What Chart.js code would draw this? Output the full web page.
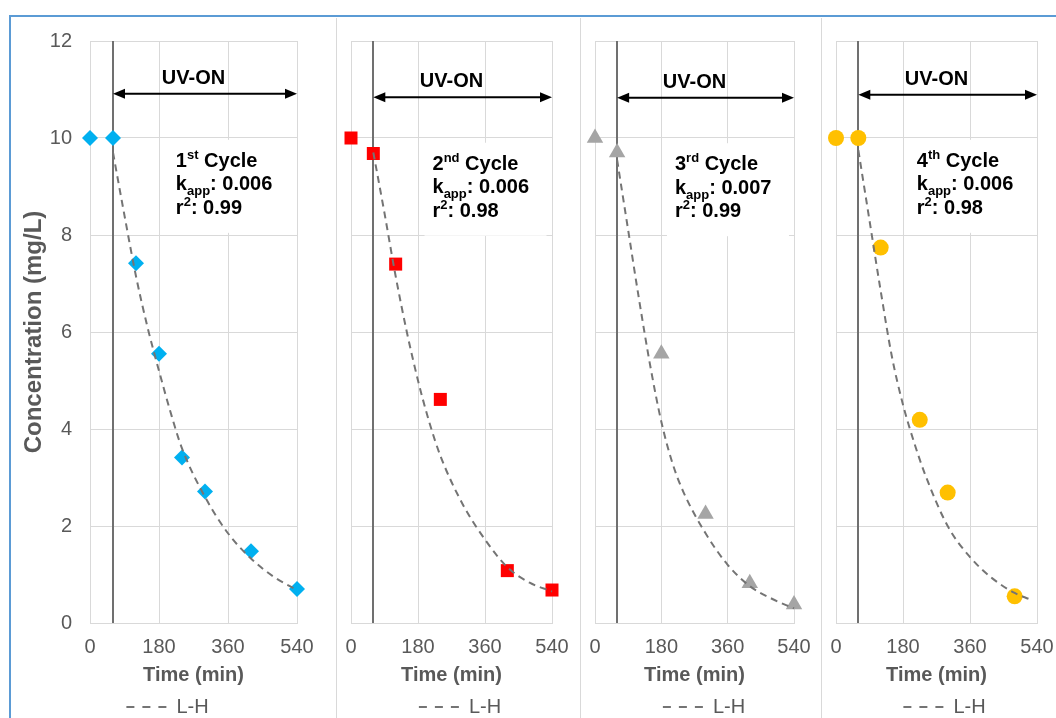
<!DOCTYPE html>
<html>
<head>
<meta charset="utf-8">
<script src="https://cdn.jsdelivr.net/npm/chart.js@4.4.1/dist/chart.umd.min.js"></script>
<style>
  html, body { margin: 0; padding: 0; background: #fff; overflow: hidden; }
  body { width: 1056px; height: 718px; position: relative; font-family: 'Liberation Sans', Arial, sans-serif; }
  .frame { position: absolute; left: 9px; top: 15px; width: 1060px; height: 720px; border-top: 2px solid #5b9bd5; border-left: 2px solid #5b9bd5; }
  .sep { position: absolute; top: 18px; width: 1px; height: 700px; background: #d9d9d9; }
  .panel { position: absolute; top: 18px; height: 710px; }
</style>
</head>
<body>
<div class="frame"></div>
<div class="sep" style="left:336px"></div>
<div class="sep" style="left:580px"></div>
<div class="sep" style="left:821px"></div>
<div class="panel" style="left:12px;width:324px"><canvas id="c1"></canvas></div>
<div class="panel" style="left:337px;width:243px"><canvas id="c2"></canvas></div>
<div class="panel" style="left:581px;width:240px"><canvas id="c3"></canvas></div>
<div class="panel" style="left:822px;width:234px"><canvas id="c4"></canvas></div>

<script>
// axes
const timeTicks = [0, 180, 360, 540];
const concTicks = [0, 2, 4, 6, 8, 10, 12];
const uvOnTime = 60;

// measured concentrations, one pair of arrays per cycle
const c1Time = [0, 60, 120, 180, 240, 300, 420, 540];
const c1Conc = [10.0, 10.0, 7.42, 5.55, 3.41, 2.71, 1.48, 0.70];
const c2Time = [0, 60, 120, 240, 420, 540];
const c2Conc = [10.0, 9.68, 7.40, 4.61, 1.08, 0.68];
const c3Time = [0, 60, 180, 300, 420, 540];
const c3Conc = [10.0, 9.70, 5.55, 2.25, 0.82, 0.38];
const c4Time = [0, 60, 120, 225, 300, 480];
const c4Conc = [10.0, 10.0, 7.74, 4.19, 2.69, 0.55];

// L-H fitted curves
const fitTime = [60, 90, 120, 150, 180, 210, 240, 300, 360, 420, 480, 540];
const fit1 = [9.7, 8.4, 7.15, 6.1, 5.2, 4.35, 3.6, 2.6, 1.85, 1.33, 0.95, 0.68];
const fit2 = [9.7, 8.45, 7.15, 6.0, 5.0, 4.15, 3.45, 2.45, 1.72, 1.15, 0.83, 0.65];
const fit3 = [9.55, 8.1, 6.65, 5.3, 4.15, 3.3, 2.7, 1.85, 1.2, 0.76, 0.5, 0.30];
const fit4Time = [60, 90, 120, 150, 180, 210, 240, 300, 360, 420, 480, 520];
const fit4 = [9.75, 8.3, 6.85, 5.5, 4.5, 3.72, 3.05, 2.0, 1.36, 0.92, 0.62, 0.49];

// annotation text
const cycleNum = ['1', '2', '3', '4'];
const cycleSuffix = ['st', 'nd', 'rd', 'th'];
const kappValues = ['0.006', '0.006', '0.007', '0.006'];
const r2Values = ['0.99', '0.98', '0.99', '0.98'];

const FONT = "'Liberation Sans', Arial, sans-serif";
Chart.defaults.font.family = FONT;

function toPoints(xs, ys) {
  return xs.map((x, i) => ({ x: x, y: ys[i] }));
}

// draw text made of runs with different sizes / baseline shifts
function drawRuns(ctx, x, baseline, runs) {
  let cx = x;
  runs.forEach(r => {
    ctx.font = 'bold ' + r.size + 'px ' + FONT;
    ctx.fillText(r.t, cx, baseline + (r.dy || 0));
    cx += ctx.measureText(r.t).width;
  });
}

const annotPlugin = {
  id: 'uvAnnot',
  beforeDatasetsDraw(chart, args, opts) {
    const { ctx } = chart;
    const x = chart.scales.x, y = chart.scales.y;
    ctx.save();
    // UV on marker line
    const lx = Math.round(x.getPixelForValue(uvOnTime));
    ctx.strokeStyle = '#707070';
    ctx.lineWidth = 2;
    ctx.beginPath();
    ctx.moveTo(lx, y.getPixelForValue(12));
    ctx.lineTo(lx, y.getPixelForValue(0));
    ctx.stroke();

    // white text box with cycle info
    const tx = x.getPixelForValue(opts.textX);
    const ty = y.getPixelForValue(opts.textY);
    ctx.fillStyle = '#fff';
    ctx.fillRect(tx - 8, ty - 20, 122, 93);
    ctx.fillStyle = '#000';
    ctx.textAlign = 'left';
    ctx.textBaseline = 'alphabetic';
    const i = opts.index;
    const b = ty + 7;
    drawRuns(ctx, tx, b, [{ t: cycleNum[i], size: 20 }, { t: cycleSuffix[i], size: 13, dy: -8 }, { t: ' Cycle', size: 20 }]);
    drawRuns(ctx, tx, b + 23.5, [{ t: 'k', size: 20 }, { t: 'app', size: 13, dy: 5 }, { t: ': ' + kappValues[i], size: 20 }]);
    drawRuns(ctx, tx, b + 47, [{ t: 'r', size: 20 }, { t: '2', size: 13, dy: -8 }, { t: ': ' + r2Values[i], size: 20 }]);
    ctx.restore();
  },
  afterDatasetsDraw(chart, args, opts) {
    const { ctx } = chart;
    const x = chart.scales.x, y = chart.scales.y;
    const x0 = x.getPixelForValue(uvOnTime);
    const x1 = x.getPixelForValue(540);
    const ay = y.getPixelForValue(opts.arrowY);
    ctx.save();
    ctx.strokeStyle = '#000';
    ctx.fillStyle = '#000';
    ctx.lineWidth = 2;
    ctx.beginPath();
    ctx.moveTo(x0 + 6, ay);
    ctx.lineTo(x1 - 6, ay);
    ctx.stroke();
    [[x0, 1], [x1, -1]].forEach(([px, dir]) => {
      ctx.beginPath();
      ctx.moveTo(px, ay);
      ctx.lineTo(px + dir * 12, ay - 5);
      ctx.lineTo(px + dir * 12, ay + 5);
      ctx.closePath();
      ctx.fill();
    });
    ctx.font = 'bold 20px ' + FONT;
    ctx.textAlign = 'center';
    ctx.textBaseline = 'middle';
    ctx.fillText('UV-ON', x.getPixelForValue(270), y.getPixelForValue(opts.labelY));
    ctx.restore();
  },
  afterLayout(chart, args, opts) {
    if (chart.legend) {
      chart.legend.left += opts.legendShift;
      chart.legend.right += opts.legendShift;
    }
  }
};

function makeChart(id, cfg) {
  const showY = cfg.index === 0;
  return new Chart(document.getElementById(id), {
    type: 'scatter',
    data: {
      datasets: [{
        label: 'data',
        data: toPoints(cfg.time, cfg.conc),
        pointStyle: cfg.pointStyle,
        pointRadius: cfg.radius,
        pointHoverRadius: cfg.radius,
        backgroundColor: cfg.color,
        borderColor: cfg.color,
        pointBorderWidth: 0,
        clip: false,
        order: 2
      }, {
        label: 'L-H',
        data: toPoints(cfg.fitTime, cfg.fit),
        showLine: true,
        cubicInterpolationMode: 'monotone',
        borderColor: '#747474',
        backgroundColor: '#747474',
        borderWidth: 2,
        borderDash: [7, 5],
        pointRadius: 0,
        fill: false,
        clip: false,
        order: 1
      }]
    },
    options: {
      responsive: true,
      maintainAspectRatio: false,
      animation: false,
      devicePixelRatio: 1,
      layout: { padding: { top: 23, left: cfg.padLeft, right: cfg.padRight, bottom: 1 } },
      scales: {
        x: {
          type: 'linear',
          min: 0, max: 540,
          afterBuildTicks: s => { s.ticks = timeTicks.map(v => ({ value: v })); },
          afterFit: s => { s.height = 64; },
          grid: { color: '#d9d9d9', drawTicks: true, tickLength: 10, tickColor: 'rgba(0,0,0,0)' },
          border: { color: '#d9d9d9' },
          ticks: { padding: 2, color: '#595959', font: { size: 20 }, maxRotation: 0, autoSkip: false },
          title: { display: true, text: 'Time (min)', color: '#595959', font: { size: 20, weight: 'bold' }, padding: 0 }
        },
        y: {
          min: 0, max: 12,
          afterBuildTicks: s => { s.ticks = concTicks.map(v => ({ value: v })); },
          afterFit: s => { s.width = showY ? 78 : 0; },
          grid: { color: '#d9d9d9', drawTicks: true, tickLength: 12, tickColor: 'rgba(0,0,0,0)' },
          border: { color: '#d9d9d9' },
          ticks: { display: showY, padding: 6, color: '#595959', font: { size: 20 } },
          title: { display: showY, text: 'Concentration (mg/L)', color: '#595959', font: { size: 24, weight: 'bold' }, padding: { top: 8, bottom: 0 } }
        }
      },
      plugins: {
        tooltip: { enabled: false },
        legend: {
          position: 'bottom',
          labels: {
            usePointStyle: true,
            pointStyle: 'line',
            pointStyleWidth: 40,
            color: '#595959',
            font: { size: 20 },
            padding: 10,
            generateLabels: chart => Chart.defaults.plugins.legend.labels.generateLabels(chart)
              .filter(l => l.text === 'L-H')
              .map(l => Object.assign(l, { lineDash: [8, 8] }))
          }
        },
        uvAnnot: cfg.annot
      }
    },
    plugins: [annotPlugin]
  });
}

makeChart('c1', {
  index: 0, time: c1Time, conc: c1Conc, fitTime: fitTime, fit: fit1,
  pointStyle: 'rectRot', radius: 8, color: '#00b0f0', padLeft: 0, padRight: 39,
  annot: { index: 0, textX: 224, textY: 9.55, arrowY: 10.91, labelY: 11.22, legendShift: 13 }
});
makeChart('c2', {
  index: 1, time: c2Time, conc: c2Conc, fitTime: fitTime, fit: fit2,
  pointStyle: 'rect', radius: 9.2, color: '#ff0000', padLeft: 14, padRight: 28,
  annot: { index: 1, textX: 219, textY: 9.49, arrowY: 10.84, labelY: 11.16, legendShift: 8.5 }
});
makeChart('c3', {
  index: 2, time: c3Time, conc: c3Conc, fitTime: fitTime, fit: fit3,
  pointStyle: 'triangle', radius: 9.5, color: '#a5a5a5', padLeft: 14, padRight: 27,
  annot: { index: 2, textX: 217, textY: 9.48, arrowY: 10.83, labelY: 11.15, legendShift: 9.5 }
});
makeChart('c4', {
  index: 3, time: c4Time, conc: c4Conc, fitTime: fit4Time, fit: fit4,
  pointStyle: 'circle', radius: 8, color: '#ffc000', padLeft: 14, padRight: 19,
  annot: { index: 3, textX: 217, textY: 9.55, arrowY: 10.89, labelY: 11.2, legendShift: 8 }
});
</script>
</body>
</html>
